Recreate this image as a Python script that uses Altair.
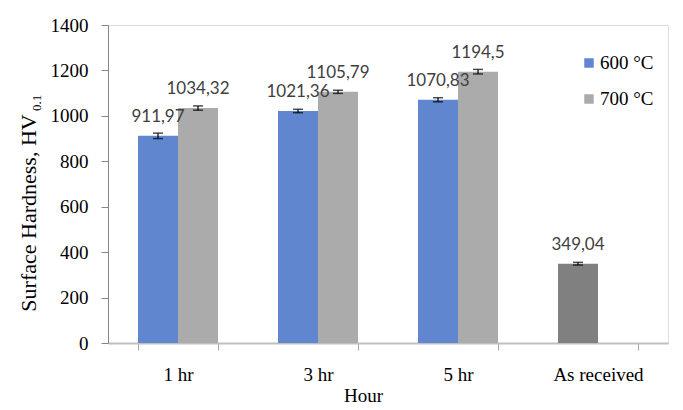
import altair as alt
import pandas as pd

categories = ["1 hr", "3 hr", "5 hr", "As received"]
series_names = ["600 °C", "700 °C", "As received"]
series_colors = ["#5F86CF", "#ABABAB", "#808080"]
values_600 = [911.97, 1021.36, 1070.83]
values_700 = [1034.32, 1105.79, 1194.5]
value_as_received = 349.04
err_600 = [12, 7.5, 9]
err_700 = [9.5, 7, 10]
err_as_received = 6
y_ticks = [0, 200, 400, 600, 800, 1000, 1200, 1400]
y_title_main = "Surface Hardness, HV"
y_title_sub = "0.1"
x_title = "Hour"

rows = []
for i, c in enumerate(categories[:3]):
    rows.append(dict(cat=c, series=series_names[0], slot="a", value=values_600[i], err=err_600[i]))
    rows.append(dict(cat=c, series=series_names[1], slot="b", value=values_700[i], err=err_700[i]))
rows.append(dict(cat=categories[3], series=series_names[2], slot="a", value=value_as_received, err=err_as_received))
df = pd.DataFrame(rows)
df["lo"] = df["value"] - df["err"]
df["hi"] = df["value"] + df["err"]
df["label"] = df["value"].map(lambda v: str(v).replace(".", ","))

SERIF = "Liberation Serif"

x_enc = alt.X(
    "cat:N",
    sort=categories,
    scale=alt.Scale(domain=categories, paddingInner=0.4286, paddingOuter=0.2143),
    axis=alt.Axis(
        title=x_title, labelAngle=0, tickBand="extent", tickSize=7, tickColor="#A6A6A6",
        domainColor="#BFBFBF", domainWidth=2, labelFont=SERIF, labelFontSize=19,
        labelColor="black", labelPadding=15, titleFont=SERIF, titleFontSize=19,
        titleFontWeight="normal", titleColor="black", titlePadding=2, titleX=255,
        titleAlign="center",
    ),
)
xoff = alt.XOffset("slot:N", scale=alt.Scale(domain=["a", "b"], paddingInner=0, paddingOuter=0))
y_scale = alt.Scale(domain=[0, 1400], nice=False)

base = alt.Chart(df)

bars = base.mark_bar().encode(
    x=x_enc,
    xOffset=xoff,
    y=alt.Y("value:Q", scale=y_scale, axis=alt.Axis(
        title=None, values=y_ticks, format="d", grid=False, tickSize=7, tickColor="#868686",
        domainColor="#868686", labelFont=SERIF, labelFontSize=19, labelColor="black",
        labelPadding=13,
    )),
    color=alt.Color("series:N", scale=alt.Scale(domain=series_names, range=series_colors),
                    legend=None),
)

err_rule = base.mark_rule(color="black", strokeWidth=1.2).encode(
    x=alt.X("cat:N", sort=categories), xOffset=xoff,
    y=alt.Y("lo:Q", scale=y_scale), y2="hi:Q",
)
cap_lo = base.mark_tick(color="black", size=10, thickness=1.5).encode(
    x=alt.X("cat:N", sort=categories), xOffset=xoff, y=alt.Y("lo:Q", scale=y_scale),
)
cap_hi = base.mark_tick(color="black", size=10, thickness=1.5).encode(
    x=alt.X("cat:N", sort=categories), xOffset=xoff, y=alt.Y("hi:Q", scale=y_scale),
)

labels = base.mark_text(font="Lato", fontSize=17, color="#404040", baseline="middle",
                        dy=-19).encode(
    x=alt.X("cat:N", sort=categories), xOffset=xoff,
    y=alt.Y("value:Q", scale=y_scale), text="label:N",
)

title_df = pd.DataFrame({"t": [y_title_main]})
sub_df = pd.DataFrame({"t": [y_title_sub]})
ytitle = alt.Chart(title_df).mark_text(font=SERIF, fontSize=22, angle=270, align="center",
                                        baseline="alphabetic", color="black").encode(
    text="t:N", x=alt.value(-72), y=alt.value(188))
ysub = alt.Chart(sub_df).mark_text(font=SERIF, fontSize=13, angle=270, align="left",
                                    baseline="alphabetic", color="black").encode(
    text="t:N", x=alt.value(-67), y=alt.value(86))

# manual legend (two entries)
legend_layers = []
for name, col, ly in [(series_names[0], series_colors[0], 38), (series_names[1], series_colors[1], 74)]:
    ldf = pd.DataFrame({"t": [name]})
    legend_layers.append(alt.Chart(ldf).mark_square(size=90, opacity=1).encode(
        x=alt.value(481), y=alt.value(ly), color=alt.value(col)))
    legend_layers.append(alt.Chart(ldf).mark_text(font=SERIF, fontSize=19, align="left",
                                                  baseline="middle", color="black").encode(
        text="t:N", x=alt.value(492), y=alt.value(ly)))

chart = alt.layer(bars, err_rule, cap_lo, cap_hi, labels, ytitle, ysub, *legend_layers).properties(
    width=560, height=318,
    autosize=alt.AutoSizeParams(type="none"),
    padding={"left": 108, "top": 25, "right": 15, "bottom": 67},
).configure_view(stroke=None).configure(background="white")

chart.save("out.html", embed_options={"renderer": "svg", "actions": False})
